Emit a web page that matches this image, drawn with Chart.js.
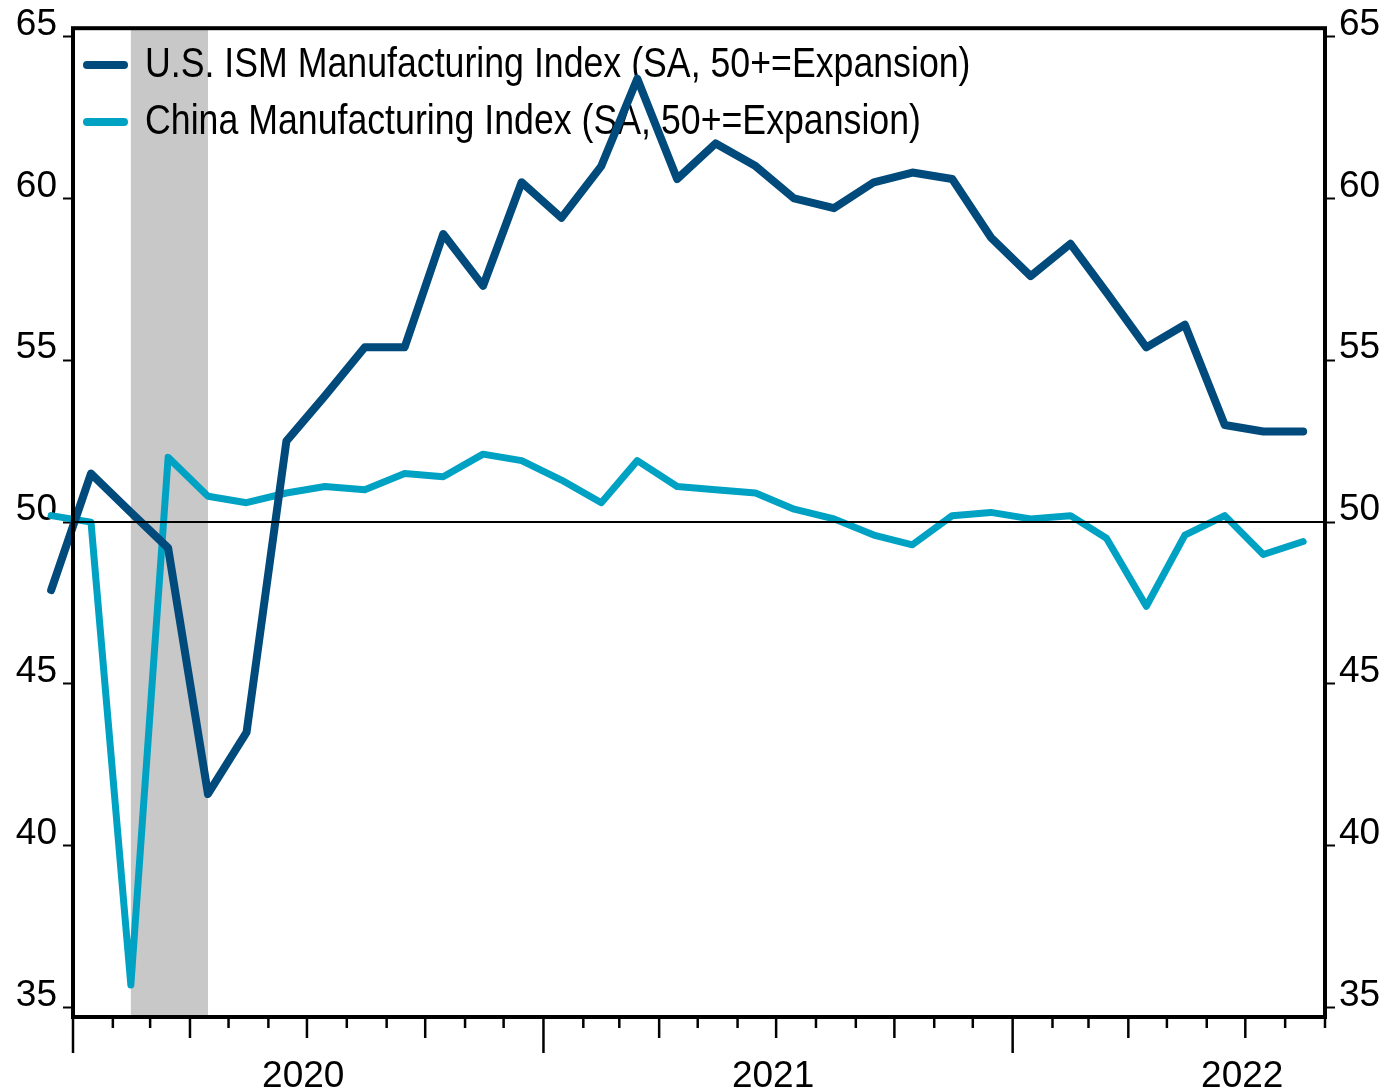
<!DOCTYPE html>
<html><head><meta charset="utf-8">
<script src="https://cdn.jsdelivr.net/npm/chart.js@4/dist/chart.umd.min.js"></script>
<style>html,body{margin:0;padding:0;background:#fff;}canvas{display:block;}</style>
</head><body>
<canvas id="c" width="1386" height="1089"></canvas>
<script>
// ---- data ----
const months = ['2019-12','2020-01','2020-02','2020-03','2020-04','2020-05','2020-06','2020-07','2020-08','2020-09','2020-10','2020-11','2020-12',
  '2021-01','2021-02','2021-03','2021-04','2021-05','2021-06','2021-07','2021-08','2021-09','2021-10','2021-11','2021-12',
  '2022-01','2022-02','2022-03','2022-04','2022-05','2022-06','2022-07','2022-08'];
const usIsm = [47.9,51.5,50.3,49.2,41.6,43.5,52.5,53.9,55.4,55.4,58.9,57.3,60.5,
  59.4,61.0,63.7,60.6,61.7,61.0,60.0,59.7,60.5,60.8,60.6,58.8,
  57.6,58.6,57.1,55.4,56.1,53.0,52.8,52.8];
const chinaPmi = [50.2,50.0,35.7,52.0,50.8,50.6,50.9,51.1,51.0,51.5,51.4,52.1,51.9,
  51.3,50.6,51.9,51.1,51.0,50.9,50.4,50.1,49.6,49.3,50.2,50.3,
  50.1,50.2,49.5,47.4,49.6,50.2,49.0,49.4];
const seriesLabels = ['U.S. ISM Manufacturing Index (SA, 50+=Expansion)','China Manufacturing Index (SA, 50+=Expansion)'];
const yTicks = [35,40,45,50,55,60,65];
const yearLabels = ['2020','2021','2022'];
const recession = ['2020-02','2020-04'];
const axisStartMonth = '2020-01';
const axisEndMonth = '2022-09';
const refLine = 50;

// ---- helpers ----
const EPOCH = Date.UTC(2020,0,1);
function dayOf(ym, d){ const [y,m]=ym.split('-').map(Number); return (Date.UTC(y,m-1,d)-EPOCH)/864e5; }
const midMonth = ym => dayOf(ym,15);
const xMin = dayOf(axisStartMonth,1), xMax = dayOf(axisEndMonth,1);

const usPts = months.map((m,i)=>({x:midMonth(m), y:usIsm[i]}));
const cnPts = months.map((m,i)=>({x:midMonth(m), y:chinaPmi[i]}));

const tickFont = {family:'"Liberation Sans", Arial, sans-serif', size:37};
const legendFont = '42px "Liberation Sans", Arial, sans-serif';
const legendCondense = 0.85;

const decor = {
  id:'decor',
  beforeDatasetsDraw(chart){
    const {ctx, chartArea:a, scales:{x}} = chart;
    ctx.save();
    const x0 = x.getPixelForValue(midMonth(recession[0]));
    const x1 = x.getPixelForValue(midMonth(recession[1]));
    ctx.fillStyle = '#c8c8c8';
    ctx.fillRect(x0, a.top, x1-x0, a.bottom-a.top);
    // legend
    chart.data.datasets.forEach((ds,i)=>{
      const ly = 65 + i*57;
      ctx.strokeStyle = ds.borderColor; ctx.lineWidth = 8; ctx.lineCap = 'round';
      ctx.beginPath(); ctx.moveTo(87, ly); ctx.lineTo(124, ly); ctx.stroke();
      ctx.save();
      ctx.translate(145, 77 + i*57);
      ctx.scale(legendCondense, 1);
      ctx.font = legendFont;
      ctx.textBaseline = 'alphabetic';
      ctx.textAlign = 'left';
      ctx.fillStyle = '#000';
      ctx.fillText(ds.label, 0, 0);
      ctx.restore();
    });
    ctx.restore();
  },
  afterDatasetsDraw(chart){
    const {ctx, chartArea:a, scales:{x,y}} = chart;
    ctx.save();
    // reference line
    const yr = y.getPixelForValue(refLine);
    ctx.strokeStyle = '#000'; ctx.lineWidth = 2;
    ctx.beginPath(); ctx.moveTo(a.left, yr); ctx.lineTo(a.right, yr); ctx.stroke();
    // frame
    ctx.lineWidth = 4; ctx.lineCap='square';
    ctx.strokeRect(a.left, a.top, a.right-a.left, a.bottom-a.top);
    // x ticks at month boundaries
    ctx.lineWidth = 2.5; ctx.lineCap='butt';
    const [sy,sm] = axisStartMonth.split('-').map(Number);
    const [ey,em] = axisEndMonth.split('-').map(Number);
    let yy=sy, mm=sm;
    while (yy<ey || (yy===ey && mm<=em)) {
      const ym = yy+'-'+String(mm).padStart(2,'0');
      const px = x.getPixelForValue(dayOf(ym,1));
      const len = (mm===1) ? 36 : ((mm-1)%3===0 ? 21 : 11);
      ctx.beginPath(); ctx.moveTo(px, a.bottom); ctx.lineTo(px, a.bottom+len); ctx.stroke();
      mm++; if (mm>12){mm=1;yy++;}
    }
    ctx.restore();
  }
};

const yScaleBase = (pos, width, pad) => ({
  position: pos,
  min: 34.71, max: 65.26,
  afterBuildTicks: s => { s.ticks = yTicks.map(v=>({value:v})); },
  afterFit: s => { s.width = width; },
  grid: {drawOnChartArea:false, drawTicks:true, tickLength:10, tickWidth:2, tickColor:'#000'},
  border: {display:false},
  ticks: {color:'#000', font:tickFont, padding:pad, labelOffset:-12, callback: v => String(v)}
});

new Chart(document.getElementById('c'), {
  type:'line',
  data:{
    datasets:[
      {label:seriesLabels[0], data:usPts, borderColor:'#004a7c', borderWidth:8, pointRadius:0, clip:false,
       borderCapStyle:'round', borderJoinStyle:'round', tension:0, yAxisID:'y'},
      {label:seriesLabels[1], data:cnPts, borderColor:'#00a2c4', borderWidth:7, pointRadius:0, clip:false,
       borderCapStyle:'round', borderJoinStyle:'round', tension:0, yAxisID:'y'}
    ]
  },
  options:{
    responsive:false, animation:false, devicePixelRatio:1,
    layout:{padding:{top:26, left:0, right:0, bottom:0}},
    plugins:{legend:{display:false}, tooltip:{enabled:false}},
    scales:{
      x:{
        type:'linear', min:xMin, max:xMax,
        afterBuildTicks: s => { s.ticks = yearLabels.map(yl => ({value:(dayOf(yl+'-01',1)+dayOf((+yl+1)+'-01',1))/2, label:yl})); },
        afterFit: s => { s.height = 72; },
        grid:{display:false}, border:{display:false},
        ticks:{color:'#000', font:tickFont, padding:30, labelOffset:-5, maxRotation:0, autoSkip:false,
          callback:(v,i,t)=> t[i].label}
      },
      y: yScaleBase('left', 73, 6),
      y2: yScaleBase('right', 61, 4)
    }
  },
  plugins:[decor]
});
</script>
</body></html>
